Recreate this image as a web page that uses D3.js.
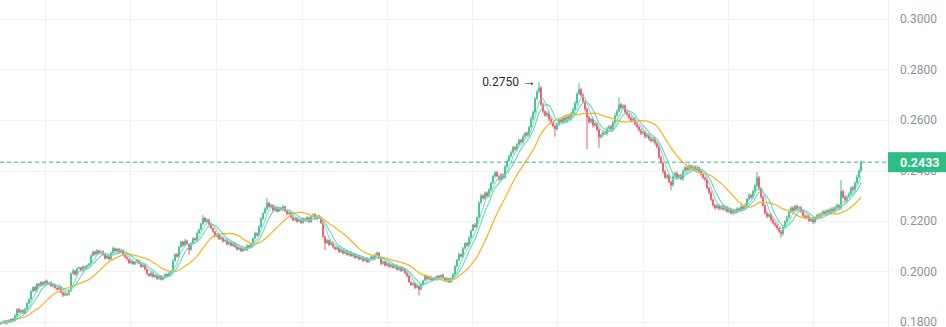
<!DOCTYPE html>
<html>
<head>
<meta charset="utf-8">
<script src="https://cdn.jsdelivr.net/npm/d3@7"></script>
<style>
  html, body { margin: 0; padding: 0; background: #ffffff; overflow: hidden; }
  svg { display: block; }
</style>
</head>
<body>
<svg id="chart" width="946" height="327"></svg>
<script>
// ---- price data (one candle per slot; each candle opens at the previous close) ----
const firstOpen = 0.1792;

const closes = [
  0.1797,0.1803,0.1795,0.1806,0.1801,0.1812,0.1808,0.1825,0.1851,0.1838,
  0.1846,0.1835,0.1852,0.1874,0.1890,0.1921,0.1938,0.1925,0.1951,0.1944,
  0.1958,0.1949,0.1962,0.1951,0.1957,0.1942,0.1948,0.1935,0.1929,0.1938,
  0.1917,0.1905,0.1912,0.1908,0.1925,0.1992,0.2003,0.1988,0.2011,0.2016,
  0.2004,0.2019,0.2013,0.2024,0.2031,0.2062,0.2078,0.2069,0.2083,0.2072,
  0.2079,0.2066,0.2052,0.2061,0.2049,0.2074,0.2092,0.2081,0.2089,0.2076,
  0.2085,0.2068,0.2056,0.2049,0.2034,0.2041,0.2029,0.2038,0.2044,0.2031,
  0.2019,0.2026,0.2008,0.1991,0.1983,0.1995,0.1979,0.1986,0.1972,0.1981,
  0.1968,0.1977,0.1989,0.1982,0.1994,0.2003,0.2042,0.2068,0.2059,0.2097,
  0.2118,0.2104,0.2122,0.2109,0.2086,0.2112,0.2131,0.2125,0.2152,0.2166,
  0.2189,0.2212,0.2197,0.2205,0.2186,0.2171,0.2158,0.2139,0.2146,0.2128,
  0.2135,0.2119,0.2124,0.2108,0.2116,0.2102,0.2111,0.2098,0.2087,0.2094,
  0.2081,0.2092,0.2085,0.2103,0.2096,0.2109,0.2131,0.2152,0.2143,0.2178,
  0.2209,0.2231,0.2248,0.2272,0.2256,0.2263,0.2241,0.2255,0.2238,0.2251,
  0.2244,0.2257,0.2239,0.2228,0.2234,0.2215,0.2203,0.2211,0.2198,0.2206,
  0.2193,0.2209,0.2201,0.2214,0.2197,0.2218,0.2226,0.2209,0.2221,0.2213,
  0.2192,0.2138,0.2112,0.2124,0.2106,0.2115,0.2097,0.2088,0.2095,0.2078,
  0.2086,0.2072,0.2081,0.2066,0.2074,0.2061,0.2069,0.2054,0.2062,0.2049,
  0.2056,0.2043,0.2051,0.2038,0.2047,0.2058,0.2049,0.2066,0.2074,0.2052,
  0.2031,0.2039,0.2024,0.2033,0.2019,0.2028,0.2015,0.2022,0.2008,0.2017,
  0.2003,0.2011,0.1994,0.1982,0.1958,0.1947,0.1953,0.1936,0.1944,0.1929,
  0.1948,0.1964,0.1983,0.1971,0.1979,0.1966,0.1975,0.1969,0.1982,0.1975,
  0.1986,0.1974,0.1962,0.1971,0.1958,0.1973,0.1989,0.2021,0.2046,0.2068,
  0.2059,0.2091,0.2112,0.2103,0.2134,0.2162,0.2185,0.2176,0.2214,0.2272,
  0.2301,0.2289,0.2312,0.2298,0.2324,0.2351,0.2377,0.2392,0.2378,0.2365,
  0.2384,0.2372,0.2415,0.2438,0.2457,0.2471,0.2492,0.2484,0.2503,0.2521,
  0.2512,0.2534,0.2548,0.2539,0.2572,0.2605,0.2631,0.2684,0.2712,0.2728,
  0.2661,0.2634,0.2618,0.2627,0.2603,0.2589,0.2576,0.2564,0.2583,0.2601,
  0.2592,0.2608,0.2597,0.2614,0.2605,0.2626,0.2641,0.2667,0.2703,0.2721,
  0.2698,0.2672,0.2643,0.2611,0.2592,0.2604,0.2578,0.2586,0.2561,0.2532,
  0.2541,0.2552,0.2545,0.2566,0.2574,0.2563,0.2592,0.2618,0.2635,0.2662,
  0.2648,0.2657,0.2631,0.2622,0.2609,0.2598,0.2606,0.2584,0.2573,0.2559,
  0.2547,0.2552,0.2534,0.2541,0.2525,0.2517,0.2526,0.2508,0.2494,0.2452,
  0.2431,0.2396,0.2372,0.2381,0.2355,0.2342,0.2376,0.2389,0.2371,0.2382,
  0.2366,0.2398,0.2412,0.2403,0.2418,0.2407,0.2415,0.2401,0.2412,0.2398,
  0.2385,0.2371,0.2364,0.2331,0.2312,0.2284,0.2263,0.2252,0.2261,0.2249,
  0.2258,0.2246,0.2255,0.2238,0.2246,0.2231,0.2242,0.2234,0.2249,0.2241,
  0.2257,0.2248,0.2263,0.2286,0.2302,0.2294,0.2318,0.2339,0.2372,0.2328,
  0.2296,0.2262,0.2231,0.2218,0.2226,0.2204,0.2191,0.2183,0.2172,0.2158,
  0.2149,0.2176,0.2198,0.2214,0.2238,0.2252,0.2241,0.2259,0.2246,0.2254,
  0.2238,0.2221,0.2213,0.2219,0.2201,0.2208,0.2196,0.2211,0.2223,0.2216,
  0.2229,0.2237,0.2228,0.2242,0.2235,0.2248,0.2239,0.2254,0.2262,0.2251,
  0.2318,0.2294,0.2281,0.2296,0.2307,0.2332,0.2325,0.2351,0.2374,0.2398,
  0.2433
];

// wick extents above / below the body, in units of 0.0001
const upperWick = [
  4,3,6,2,5,3,4,8,3,5,4,6,3,7,4,5,3,6,4,3,
  5,3,4,6,2,5,4,3,5,7,3,4,6,3,5,4,8,3,5,4,
  3,6,4,5,3,7,4,5,6,3,4,5,3,6,4,5,7,3,4,5,
  6,3,4,5,3,6,4,3,5,4,6,3,5,4,3,6,4,5,3,4,
  5,3,6,4,5,3,7,4,5,6,4,3,7,4,3,5,6,4,5,4,
  5,12,4,6,3,5,4,3,6,4,5,3,4,6,3,5,4,3,6,4,
  5,3,4,6,3,5,4,6,3,5,7,4,6,19,4,5,3,6,4,5,
  3,6,4,5,3,4,6,3,5,4,3,6,4,5,3,6,4,5,3,4,
  5,3,4,6,3,5,4,3,5,4,6,3,4,5,3,6,4,3,5,4,
  3,5,4,6,3,5,4,7,6,3,4,5,3,6,4,3,5,4,6,3,
  4,5,3,6,4,3,5,4,6,3,5,4,6,3,5,4,3,6,4,5,
  3,6,4,5,3,4,6,5,4,7,3,6,5,4,6,5,4,7,5,6,
  8,4,6,5,7,4,6,5,8,4,6,5,7,6,5,8,6,5,7,6,
  5,8,6,7,5,9,6,8,7,22,6,8,5,7,6,8,5,7,6,8,
  7,6,8,5,7,6,9,8,7,24,6,8,7,5,8,6,7,5,6,8,
  6,7,5,8,6,7,5,9,8,28,6,7,5,8,6,7,5,6,8,5,
  7,6,8,5,6,7,5,8,6,9,7,5,8,6,7,5,9,6,8,5,
  6,8,7,5,9,6,7,5,8,6,7,5,6,8,5,7,6,5,8,6,
  5,7,6,5,8,6,5,7,6,5,8,6,7,5,8,6,7,9,22,7,
  6,8,5,7,6,5,8,6,7,5,6,8,5,7,9,6,8,5,7,6,
  5,7,6,5,8,6,5,7,6,8,5,7,6,5,8,6,7,5,8,6,
  44,6,8,7,9,6,8,7,9,8,5
];

const lowerWick = [
  3,5,4,6,3,4,5,3,6,4,5,3,4,6,3,5,4,3,6,4,
  4,6,3,5,4,3,6,4,5,3,4,6,3,5,4,6,3,5,4,3,
  5,4,6,3,5,4,3,6,4,5,3,4,6,3,5,4,3,5,6,4,
  4,5,3,6,4,5,3,4,6,3,5,4,3,6,4,5,3,4,6,5,
  3,4,6,5,3,4,6,3,5,4,3,6,4,5,20,4,3,5,6,4,
  4,5,3,6,4,3,5,4,6,3,4,5,3,6,4,3,5,6,4,3,
  4,6,3,5,4,3,6,4,5,3,4,6,3,5,4,6,3,4,5,3,
  5,4,3,6,4,5,3,4,6,3,5,4,3,6,4,5,3,4,6,4,
  3,5,27,4,6,3,5,4,3,6,4,5,3,4,6,3,5,4,3,5,
  4,6,3,5,4,3,6,4,5,3,6,4,5,3,4,6,3,5,4,6,
  5,3,4,6,3,5,4,6,3,24,4,5,3,6,4,5,3,4,6,3,
  4,5,3,6,5,4,3,5,4,6,3,5,4,6,3,5,4,3,6,4,
  5,3,6,4,5,7,4,6,5,8,4,6,5,7,4,6,5,7,6,5,
  6,5,7,4,6,5,7,6,5,7,6,8,5,7,6,8,5,30,6,7,
  5,7,6,8,5,7,6,5,8,6,7,5,9,126,7,6,8,5,7,42,
  6,8,5,7,6,5,8,6,7,5,6,8,5,7,6,8,5,7,6,5,
  7,5,8,6,7,5,6,8,5,7,6,9,5,8,6,20,7,5,8,6,
  5,7,6,8,5,7,6,5,8,6,7,5,8,6,7,5,6,8,5,7,
  6,5,8,6,7,5,8,6,5,7,6,8,5,7,6,8,5,7,6,8,
  7,6,5,8,6,7,5,6,8,5,16,7,6,8,5,7,6,5,8,6,
  6,8,5,7,6,5,8,6,7,5,8,6,7,5,6,8,5,7,6,8,
  7,5,8,6,7,5,8,6,7,5,6
];

// price axis ticks
const yTicks = [0.18, 0.20, 0.22, 0.24, 0.26, 0.28, 0.30];
// time grid positions, in candle slots
const gridSlots = [22, 64.5, 107.5, 150.5, 193, 235.5, 278, 321, 363.5, 406];
// moving-average periods
const maPeriods = { fast: 5, mid: 8, slow: 20 };

// ---- build OHLC records ----
const candles = closes.map((c, i) => {
  const o = i === 0 ? firstOpen : closes[i - 1];
  const h = Math.max(o, c) + (upperWick[i] || 0) / 1e4;
  const l = Math.min(o, c) - (lowerWick[i] || 0) / 1e4;
  return { i, o, h, l, c };
});

function sma(n) {
  return closes.map((_, i) => {
    const s = closes.slice(Math.max(0, i - n + 1), i + 1);
    return { i, v: d3.mean(s) };
  });
}

// ---- layout ----
const W = 946, H = 327;
const plotRight = 888;
const x = d3.scaleLinear().domain([0, closes.length - 1]).range([1, 861]);
const y = d3.scaleLinear().domain([0.18, 0.30]).range([322, 19]);

const COLORS = {
  up: "#2ebd85", down: "#f6465d",
  grid: "#f1f2f4", axisText: "#8c93a0",
  maFast: "#71dcc3", maMid: "#5ccfb6", maSlow: "#f8b62b",
  last: "#2ebd85", note: "#1e2a44"
};

const svg = d3.select("#chart");

// grid
const grid = svg.append("g");
grid.selectAll("line.h").data(yTicks).join("line")
  .attr("x1", 0).attr("x2", plotRight + 5)
  .attr("y1", d => Math.round(y(d)) + 0.5).attr("y2", d => Math.round(y(d)) + 0.5)
  .attr("stroke", COLORS.grid).attr("stroke-width", 1);
grid.selectAll("line.v").data(gridSlots).join("line")
  .attr("x1", d => Math.round(x(d)) + 0.5).attr("x2", d => Math.round(x(d)) + 0.5)
  .attr("y1", 0).attr("y2", H)
  .attr("stroke", COLORS.grid).attr("stroke-width", 1);
grid.append("line")
  .attr("x1", plotRight + 0.5).attr("x2", plotRight + 0.5)
  .attr("y1", 0).attr("y2", H)
  .attr("stroke", COLORS.grid).attr("stroke-width", 1);

// price axis
const axis = svg.append("g")
  .attr("transform", `translate(${plotRight},0)`)
  .call(d3.axisRight(y).tickValues(yTicks).tickFormat(d3.format(".4f")).tickSize(0).tickPadding(12));
axis.select(".domain").remove();
axis.selectAll("text")
  .attr("fill", COLORS.axisText)
  .style("font-family", "Roboto, 'Noto Sans', sans-serif")
  .style("font-size", "12px");

// candles
const cg = svg.append("g");
cg.selectAll("line.wick").data(candles).join("line")
  .attr("x1", d => x(d.i)).attr("x2", d => x(d.i))
  .attr("y1", d => y(d.h)).attr("y2", d => y(d.l))
  .attr("stroke", d => d.c >= d.o ? COLORS.up : COLORS.down)
  .attr("stroke-width", 0.9);
cg.selectAll("rect.body").data(candles).join("rect")
  .attr("x", d => x(d.i) - 0.75)
  .attr("width", 1.5)
  .attr("y", d => y(Math.max(d.o, d.c)))
  .attr("height", d => Math.max(0.8, y(Math.min(d.o, d.c)) - y(Math.max(d.o, d.c))))
  .attr("fill", d => d.c >= d.o ? COLORS.up : COLORS.down);

// moving averages
const line = d3.line().x(d => x(d.i)).y(d => y(d.v)).curve(d3.curveLinear);
svg.append("path").datum(sma(maPeriods.slow)).attr("d", line)
  .attr("fill", "none").attr("stroke", COLORS.maSlow).attr("stroke-width", 1.3);
svg.append("path").datum(sma(maPeriods.mid)).attr("d", line)
  .attr("fill", "none").attr("stroke", COLORS.maMid).attr("stroke-width", 1.1).attr("opacity", 0.9);
svg.append("path").datum(sma(maPeriods.fast)).attr("d", line)
  .attr("fill", "none").attr("stroke", COLORS.maFast).attr("stroke-width", 1.1).attr("opacity", 0.9);

// highest-price note
const peak = candles.reduce((a, b) => (b.h > a.h ? b : a));
const note = svg.append("text")
  .attr("x", x(peak.i) - 3).attr("y", y(peak.h) + 4)
  .attr("text-anchor", "end")
  .attr("fill", COLORS.note)
  .style("font-family", "Roboto, 'Noto Sans', sans-serif")
  .style("font-size", "12px");
note.append("tspan").text(peak.h.toFixed(4) + " ");
note.append("tspan").style("font-size", "14px").style("font-weight", "700").text("\u2192");

// last-price line and tag
const last = closes[closes.length - 1];
const yl = y(last);
svg.append("line")
  .attr("x1", 0).attr("x2", plotRight)
  .attr("y1", yl).attr("y2", yl)
  .attr("stroke", COLORS.last).attr("stroke-width", 1)
  .attr("stroke-dasharray", "4,3");
svg.append("rect")
  .attr("x", plotRight).attr("y", yl - 10)
  .attr("width", W - plotRight).attr("height", 20)
  .attr("fill", COLORS.last);
svg.append("text")
  .attr("x", plotRight + 12).attr("y", yl + 4.5)
  .attr("fill", "#ffffff")
  .style("font-family", "Roboto, 'Noto Sans', sans-serif")
  .style("font-size", "12.5px")
  .style("font-weight", "700")
  .text(last.toFixed(4));
</script>
</body>
</html>
